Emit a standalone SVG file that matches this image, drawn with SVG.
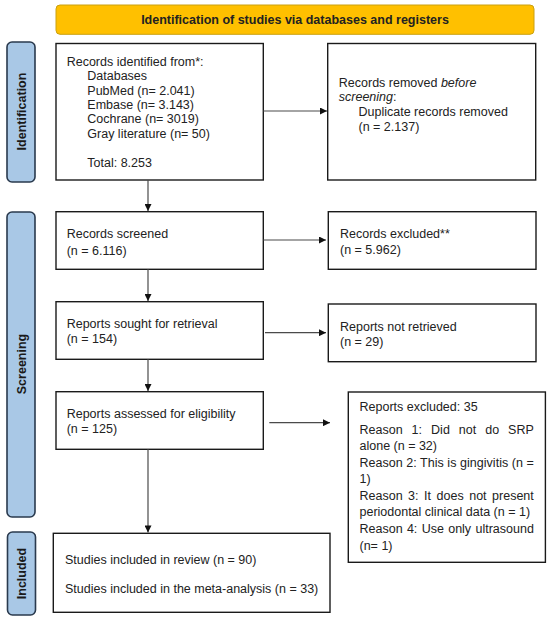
<svg xmlns="http://www.w3.org/2000/svg" width="550" height="622" viewBox="0 0 550 622">
<style>
text{font-family:"Liberation Sans",Arial,sans-serif;font-size:12.5px;fill:#222}
.box{fill:#fff;stroke:#1a1a1a;stroke-width:1.4}
.side{fill:#a9c8e6;stroke:#2a3a4e;stroke-width:1.6}
.sidet{font-weight:bold;fill:#1a1a1a}
.conn{stroke:#4a4a4a;stroke-width:1.2;fill:none;marker-end:url(#ah)}
.it{font-style:italic}
</style>
<defs>
<marker id="ah" viewBox="0 0 10 10" refX="10" refY="5" markerWidth="8" markerHeight="7" markerUnits="userSpaceOnUse" orient="auto">
<path d="M0,0L10,5L0,10z" fill="#111"/>
</marker>
</defs>
<rect x="0" y="0" width="550" height="622" fill="#fff"/>
<g id="banner">
<rect x="56" y="5" width="478" height="29.3" rx="4" fill="#ffc000" stroke="#caa010" stroke-width="1"/>
<text x="295" y="24" text-anchor="middle" style="font-weight:bold">Identification of studies via databases and registers</text>
</g>
<g id="label-identification">
<rect class="side" x="7" y="42" width="28" height="140" rx="5"/>
<text class="sidet" transform="translate(25.5,111.5) rotate(-90)" text-anchor="middle">Identification</text>
</g>
<g id="label-screening">
<rect class="side" x="7" y="212" width="28" height="305" rx="5"/>
<text class="sidet" transform="translate(25.5,364) rotate(-90)" text-anchor="middle">Screening</text>
</g>
<g id="label-included">
<rect class="side" x="7.5" y="532" width="28" height="83" rx="5"/>
<text class="sidet" transform="translate(26,573.5) rotate(-90)" text-anchor="middle">Included</text>
</g>
<g id="records-identified">
<rect class="box" x="56" y="43.5" width="207.3" height="136.5"/>
<text x="66.7" y="66.2">Records identified from*:</text>
<text x="87.3" y="79.5">Databases</text>
<text x="87.3" y="94.5">PubMed (n= 2.041)</text>
<text x="87.3" y="108.5">Embase (n= 3.143)</text>
<text x="87.3" y="122.8">Cochrane (n= 3019)</text>
<text x="87.3" y="137.8">Gray literature (n= 50)</text>
<text x="87.3" y="166.8">Total: 8.253</text>
</g>
<g id="records-removed">
<rect class="box" x="327.7" y="43.5" width="208" height="136.5"/>
<text x="338.8" y="87.2">Records removed <tspan class="it">before</tspan></text>
<text x="338.8" y="101.2"><tspan class="it">screening</tspan>:</text>
<text x="358.5" y="115.5">Duplicate records removed</text>
<text x="358.5" y="131">(n = 2.137)</text>
</g>
<g id="records-screened">
<rect class="box" x="56" y="211.7" width="207.3" height="57.6"/>
<text x="66.7" y="237.8">Records screened</text>
<text x="66.7" y="254.5">(n = 6.116)</text>
</g>
<g id="records-excluded">
<rect class="box" x="328.3" y="211.7" width="207.7" height="57.6"/>
<text x="340" y="237.8">Records excluded**</text>
<text x="340" y="254">(n = 5.962)</text>
</g>
<g id="reports-sought">
<rect class="box" x="56" y="301.7" width="207.3" height="57.6"/>
<text x="66.7" y="327.8">Reports sought for retrieval</text>
<text x="66.7" y="342.8">(n = 154)</text>
</g>
<g id="reports-not-retrieved">
<rect class="box" x="328.3" y="304" width="207.7" height="57.7"/>
<text x="340" y="330.5">Reports not retrieved</text>
<text x="340" y="346">(n = 29)</text>
</g>
<g id="reports-assessed">
<rect class="box" x="56" y="391.7" width="207.3" height="57.6"/>
<text x="66.7" y="417.8">Reports assessed for eligibility</text>
<text x="66.7" y="432.8">(n = 125)</text>
</g>
<g id="reports-excluded">
<rect class="box" x="348.3" y="392" width="197.1" height="170.3"/>
<text x="359.5" y="411.2">Reports excluded: 35</text>
<text y="433.5"><tspan x="359.5">Reason</tspan><tspan x="411.6">1:</tspan><tspan x="431.1">Did</tspan><tspan x="458.8">not</tspan><tspan x="485.2">do</tspan><tspan x="508.1">SRP</tspan></text>
<text x="359.5" y="450.2">alone (n = 32)</text>
<text x="359.5" y="466.8" textLength="174.3" lengthAdjust="spacing">Reason 2: This is gingivitis (n =</text>
<text x="359.5" y="482.8">1)</text>
<text y="499.5"><tspan x="359.5">Reason</tspan><tspan x="408.1">3:</tspan><tspan x="424.1">It</tspan><tspan x="436.6">does</tspan><tspan x="469.2">not</tspan><tspan x="492.1">present</tspan></text>
<text x="359.5" y="516.2">periodontal clinical data (n = 1)</text>
<text y="532.8"><tspan x="359.5">Reason</tspan><tspan x="406.9">4:</tspan><tspan x="421.7">Use</tspan><tspan x="448.2">only</tspan><tspan x="475.5">ultrasound</tspan></text>
<text x="359.5" y="549.5">(n= 1)</text>
</g>
<g id="studies-included">
<rect class="box" x="53.3" y="533.3" width="276.7" height="79"/>
<text x="65" y="563.5">Studies included in review (n = 90)</text>
<text x="65" y="592.8">Studies included in the meta-analysis (n = 33)</text>
</g>
<g id="connectors">
<line class="conn" x1="263.3" y1="111" x2="327" y2="111"/>
<line class="conn" x1="148" y1="180" x2="148" y2="211"/>
<line class="conn" x1="263.3" y1="240" x2="326" y2="240"/>
<line class="conn" x1="148" y1="269.3" x2="148" y2="301"/>
<line class="conn" x1="265" y1="332.7" x2="326" y2="332.7"/>
<line class="conn" x1="148" y1="359.3" x2="148" y2="391"/>
<line class="conn" x1="269.3" y1="422.7" x2="330" y2="422.7"/>
<line class="conn" x1="148" y1="449.3" x2="148" y2="532.5"/>
</g>
</svg>
